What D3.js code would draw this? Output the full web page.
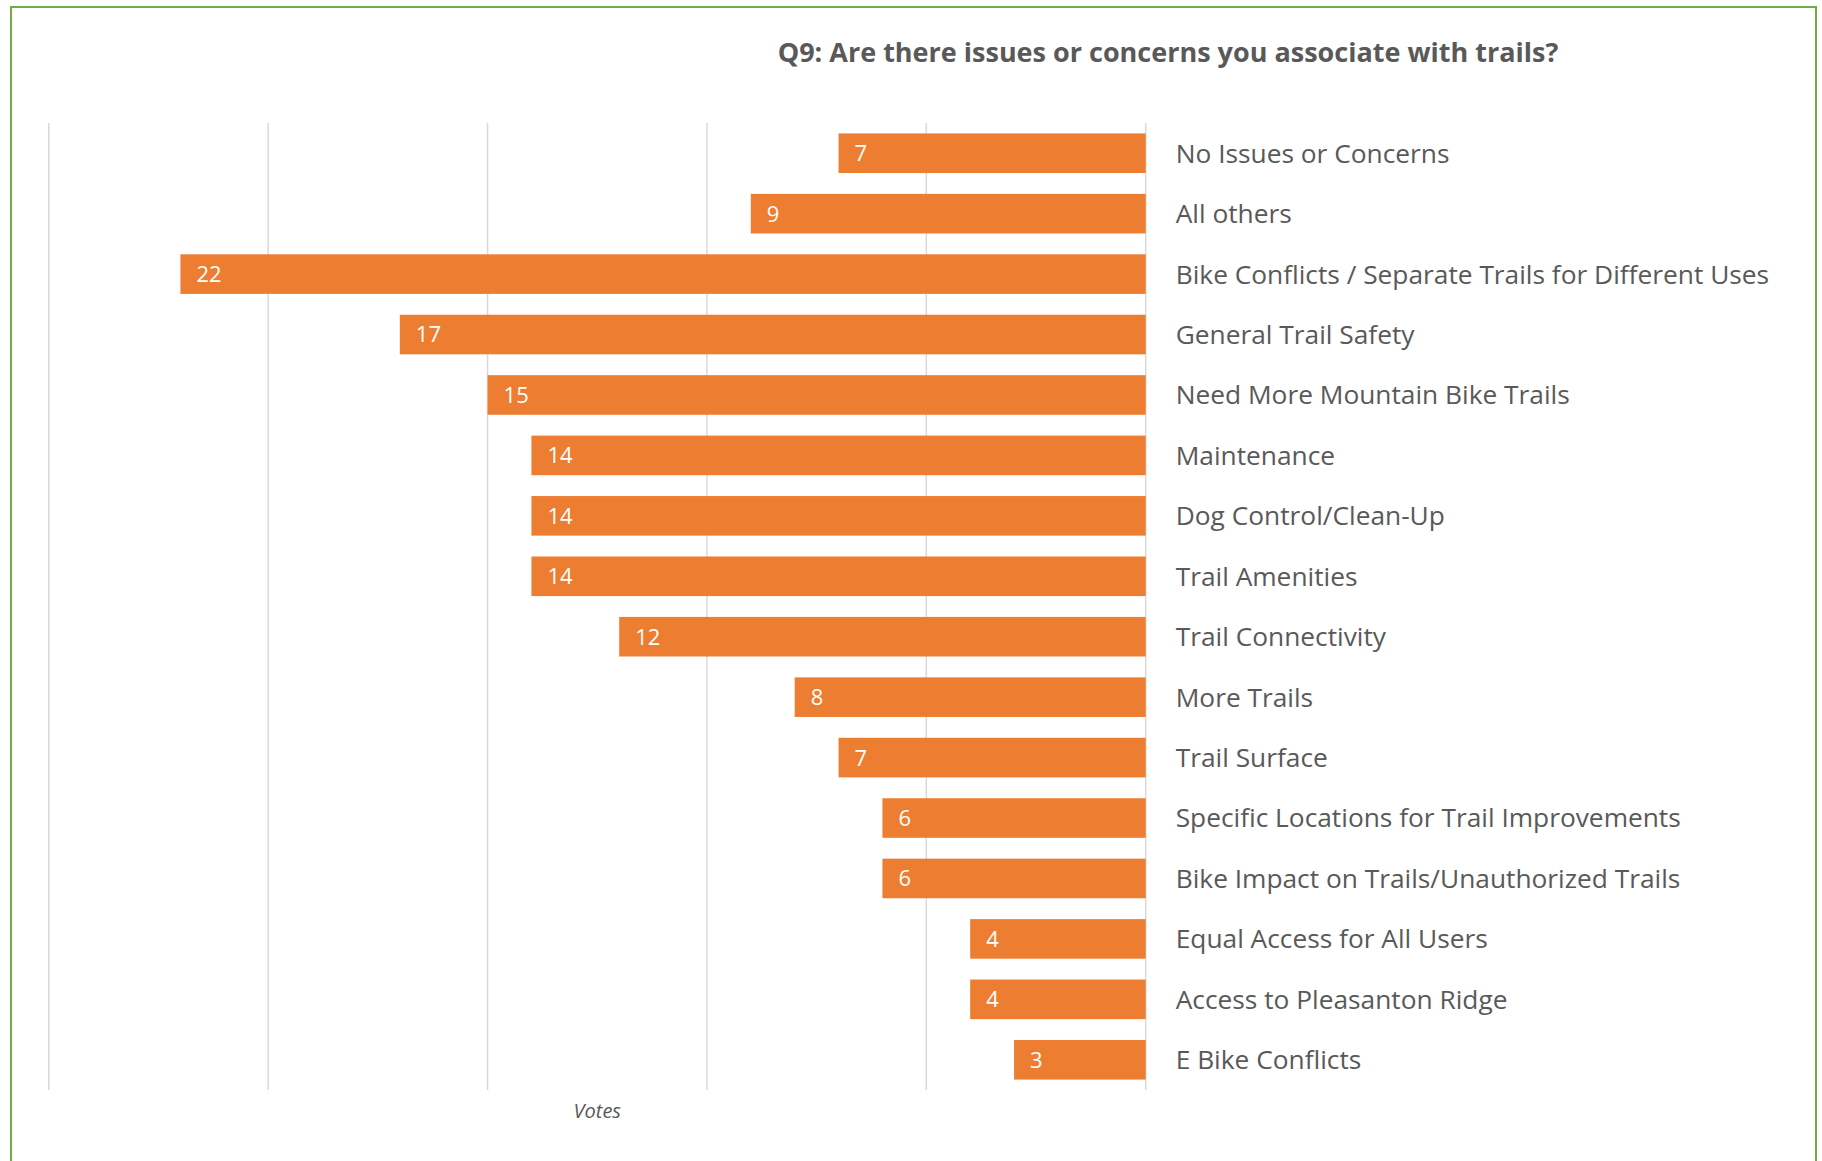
<!DOCTYPE html>
<html>
<head>
<meta charset="utf-8">
<script src="https://cdn.jsdelivr.net/npm/d3@7"></script>
<style>
    body { margin: 0; background: #fff; }
    svg { display: block; }
</style>
</head>
<body>
<div id="chart"></div>
<script>
// Q9 issues / concerns bar chart

const categories = [
    "No Issues or Concerns",
    "All others",
    "Bike Conflicts / Separate Trails for Different Uses",
    "General Trail Safety",
    "Need More Mountain Bike Trails",
    "Maintenance",
    "Dog Control/Clean-Up",
    "Trail Amenities",
    "Trail Connectivity",
    "More Trails",
    "Trail Surface",
    "Specific Locations for Trail Improvements",
    "Bike Impact on Trails/Unauthorized Trails",
    "Equal Access for All Users",
    "Access to Pleasanton Ridge",
    "E Bike Conflicts"
];
const votes = [7, 9, 22, 17, 15, 14, 14, 14, 12, 8, 7, 6, 6, 4, 4, 3];
const gridTicks = [0, 5, 10, 15, 20, 25];
const title = "Q9: Are there issues or concerns you associate with trails?";
const axisTitle = "Votes";

const width = 1822, height = 1161;
const plot = { left: 48.8, right: 1145.7, top: 123, bottom: 1090 };

const svg = d3.select('#chart')
    .append('svg')
    .attr('width', width)
    .attr('height', height);

// Frame
svg.append('rect')
    .attr('x', 11).attr('y', 7)
    .attr('width', 1805).attr('height', 1170)
    .attr('fill', 'none')
    .attr('stroke', '#70AD47')
    .attr('stroke-width', 2);

// Scales (reversed x: bars grow to the left)
const x = d3.scaleLinear()
    .domain([0, 25])
    .range([plot.right, plot.left]);

const y = d3.scaleBand()
    .domain(categories)
    .range([plot.top, plot.bottom])
    .paddingInner(0.345)
    .paddingOuter(0.1725);

// Gridlines
svg.append('g')
    .selectAll('line')
    .data(gridTicks)
    .join('line')
    .attr('x1', d => x(d)).attr('x2', d => x(d))
    .attr('y1', plot.top).attr('y2', plot.bottom)
    .attr('stroke', '#D9D9D9')
    .attr('stroke-width', 1.5);

const data = categories.map((c, i) => ({ k: c, v: votes[i] }));

// Bars
svg.append('g')
    .selectAll('rect')
    .data(data)
    .join('rect')
    .attr('x', d => x(d.v))
    .attr('y', d => y(d.k))
    .attr('width', d => x(0) - x(d.v))
    .attr('height', y.bandwidth())
    .attr('fill', '#ED7D31');

// Value labels inside bar base
svg.append('g')
    .selectAll('text')
    .data(data)
    .join('text')
    .attr('x', d => x(d.v) + 16)
    .attr('y', d => y(d.k) + y.bandwidth() / 2)
    .attr('dy', '0.36em')
    .style('font-family', '"Open Sans", sans-serif')
    .style('font-size', '22px')
    .style('fill', '#fff')
    .text(d => d.v);

// Category labels
svg.append('g')
    .selectAll('text')
    .data(data)
    .join('text')
    .attr('x', plot.right + 30)
    .attr('y', d => y(d.k) + y.bandwidth() / 2)
    .attr('dy', '0.36em')
    .style('font-family', '"Open Sans", sans-serif')
    .style('font-size', '26.3px')
    .style('fill', '#595959')
    .text(d => d.k);

// Title
svg.append('text')
    .attr('x', 1168)
    .attr('y', 62)
    .attr('text-anchor', 'middle')
    .style('font-family', '"Open Sans", sans-serif')
    .style('font-weight', 'bold')
    .style('font-size', '27px')
    .style('fill', '#595959')
    .text(title);

// Axis title
svg.append('text')
    .attr('x', (plot.left + plot.right) / 2)
    .attr('y', 1118)
    .attr('text-anchor', 'middle')
    .style('font-family', '"Open Sans", sans-serif')
    .style('font-style', 'italic')
    .style('font-size', '20px')
    .style('fill', '#595959')
    .text(axisTitle);
</script>
</body>
</html>
